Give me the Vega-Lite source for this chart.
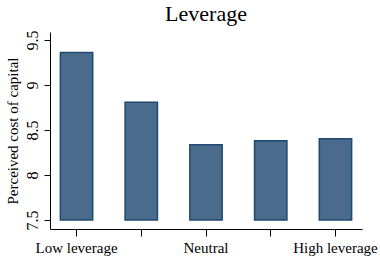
{
  "$schema": "https://vega.github.io/schema/vega-lite/v6.json",
  "autosize": "none",
  "width": 312,
  "height": 197,
  "padding": {"left": 50, "top": 32, "right": 18, "bottom": 29},
  "background": "white",
  "title": {"text": "Leverage", "font": "Liberation Serif", "fontSize": 22, "fontWeight": "normal", "color": "black", "anchor": "middle", "offset": 4},
  "config": {"view": {"stroke": null}, "axis": {"grid": false, "domainColor": "black", "tickColor": "black", "labelColor": "black", "titleColor": "black", "labelFont": "Liberation Serif", "titleFont": "Liberation Serif", "labelFontSize": 15, "titleFontSize": 15, "titleFontWeight": "normal", "domainWidth": 1, "tickWidth": 1}},
  "data": {"values": [
    {"level": 1, "cost": 9.363},
    {"level": 2, "cost": 8.808},
    {"level": 3, "cost": 8.337},
    {"level": 4, "cost": 8.381},
    {"level": 5, "cost": 8.403}
  ]},
  "mark": {"type": "bar", "fill": "#4a6b8c", "stroke": "#1f4a70", "strokeWidth": 1.5},
  "encoding": {
    "x": {"field": "level", "type": "ordinal", "scale": {"paddingInner": 0.5, "paddingOuter": 0.16}, "axis": {"title": null, "labelAngle": 0, "tickSize": 7, "labelPadding": 4, "labelExpr": "datum.value == 1 ? 'Low leverage' : datum.value == 3 ? 'Neutral' : datum.value == 5 ? 'High leverage' : ''"}},
    "y": {"field": "cost", "type": "quantitative", "scale": {"domain": [7.4, 9.59], "nice": false, "zero": false}, "axis": {"title": "Perceived cost of capital", "values": [7.5, 8, 8.5, 9, 9.5], "format": "~g", "labelAngle": -90, "labelAlign": "center", "labelBaseline": "bottom", "labelFontSize": 16, "tickSize": 6, "labelPadding": 4, "titlePadding": 4}},
    "y2": {"datum": 7.5}
  }
}
